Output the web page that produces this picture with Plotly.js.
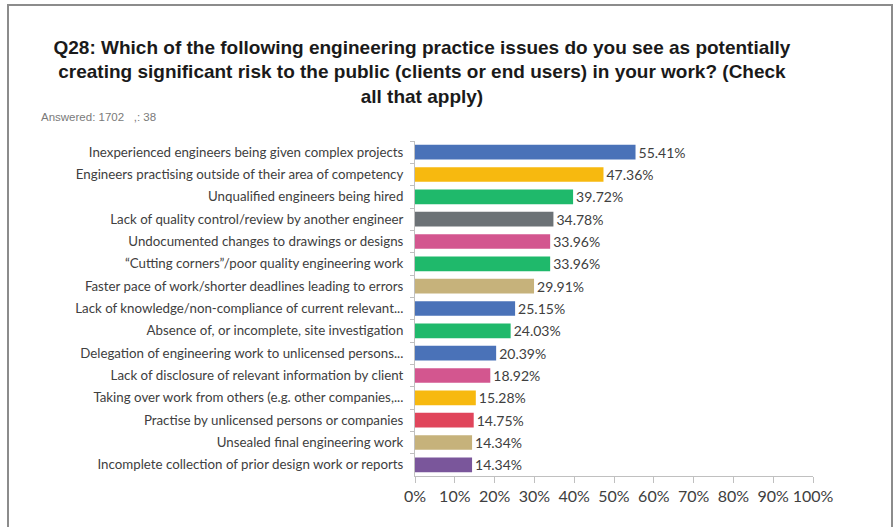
<!DOCTYPE html>
<html>
<head>
<meta charset="utf-8">
<script src="https://cdn.plot.ly/plotly-3.0.1.min.js"></script>
<style>
html,body{margin:0;padding:0;background:#fff;}
#wrap{position:relative;width:894px;height:527px;}
#chart{width:894px;height:527px;}
#frame{position:absolute;left:7px;top:4px;width:882px;height:540px;border:2px solid #8c8c8c;pointer-events:none;}
</style>
</head>
<body>
<div id="wrap">
<div id="chart"></div>
<div id="frame"></div>
</div>
<script>
const categories = [
  "Inexperienced engineers being given complex projects",
  "Engineers practising outside of their area of competency",
  "Unqualified engineers being hired",
  "Lack of quality control/review by another engineer",
  "Undocumented changes to drawings or designs",
  "\u201cCutting corners\u201d/poor quality engineering work",
  "Faster pace of work/shorter deadlines leading to errors",
  "Lack of knowledge/non-compliance of current relevant...",
  "Absence of, or incomplete, site investigation",
  "Delegation of engineering work to unlicensed persons...",
  "Lack of disclosure of relevant information by client",
  "Taking over work from others (e.g. other companies,...",
  "Practise by unlicensed persons or companies",
  "Unsealed final engineering work",
  "Incomplete collection of prior design work or reports"
];
const values = [55.41, 47.36, 39.72, 34.78, 33.96, 33.96, 29.91, 25.15, 24.03, 20.39, 18.92, 15.28, 14.75, 14.34, 14.34];
const barColors = ["#4a72b8", "#f7b90f", "#1fb96b", "#6c7276", "#d3568f", "#1fb96b", "#c6b27b", "#4a72b8", "#1fb96b", "#4a72b8", "#d3568f", "#f7b90f", "#e0455b", "#c6b27b", "#7a569b"];
const xTickVals = [0, 10, 20, 30, 40, 50, 60, 70, 80, 90, 100];
const xTickText = xTickVals.map(v => v + "%");

const trace = {
  type: "bar",
  orientation: "h",
  y: categories,
  x: values,
  marker: {color: barColors},
  text: values.map(v => v.toFixed(2) + "%"),
  textposition: "outside",
  constraintext: "none",
  cliponaxis: false,
  textfont: {family: "Lato, 'Open Sans', sans-serif", size: 14, color: "#404040"},
  hoverinfo: "none"
};

const layout = {
  width: 894, height: 527,
  margin: {l: 415, r: 81, t: 141, b: 51},
  paper_bgcolor: "#ffffff",
  plot_bgcolor: "#ffffff",
  showlegend: false,
  bargap: 0.34,
  title: {
    text: "<b>Q28: Which of the following engineering practice issues do you see as potentially<br>creating significant risk to the public (clients or end users) in your work? (Check<br>all that apply)</b>",
    font: {family: "Liberation Sans, Arial, sans-serif", size: 19, color: "#1a1a1a"},
    x: 0.472, xref: "container", xanchor: "center",
    y: 0.898, yref: "container", yanchor: "top"
  },
  xaxis: {
    range: [0, 100],
    tickvals: xTickVals,
    ticktext: xTickText,
    showgrid: false,
    zeroline: false,
    showline: true,
    linecolor: "#c0c0c0",
    linewidth: 1,
    ticks: "outside",
    ticklen: 6,
    tickcolor: "#c0c0c0",
    tickfont: {family: "Lato, 'Open Sans', sans-serif", size: 16, color: "#404040"},
    fixedrange: true
  },
  yaxis: {
    autorange: "reversed",
    showgrid: false,
    zeroline: false,
    showline: true,
    linecolor: "#c0c0c0",
    linewidth: 1,
    ticks: "outside",
    ticklen: 4,
    tickcolor: "#c0c0c0",
    tickson: "boundaries",
    ticklabelstandoff: 8,
    tickfont: {family: "Lato, 'Open Sans', sans-serif", size: 13.3, color: "#404040"},
    fixedrange: true
  },
  annotations: [{
    text: "Answered: 1702   ,: 38",
    xref: "paper", yref: "paper",
    x: -0.945, y: 1.072,
    xanchor: "left", yanchor: "middle",
    showarrow: false,
    font: {family: "Liberation Sans, Arial, sans-serif", size: 11.5, color: "#7a7a7a"}
  }]
};

Plotly.newPlot("chart", [trace], layout, {displayModeBar: false, staticPlot: true});
</script>
</body>
</html>
